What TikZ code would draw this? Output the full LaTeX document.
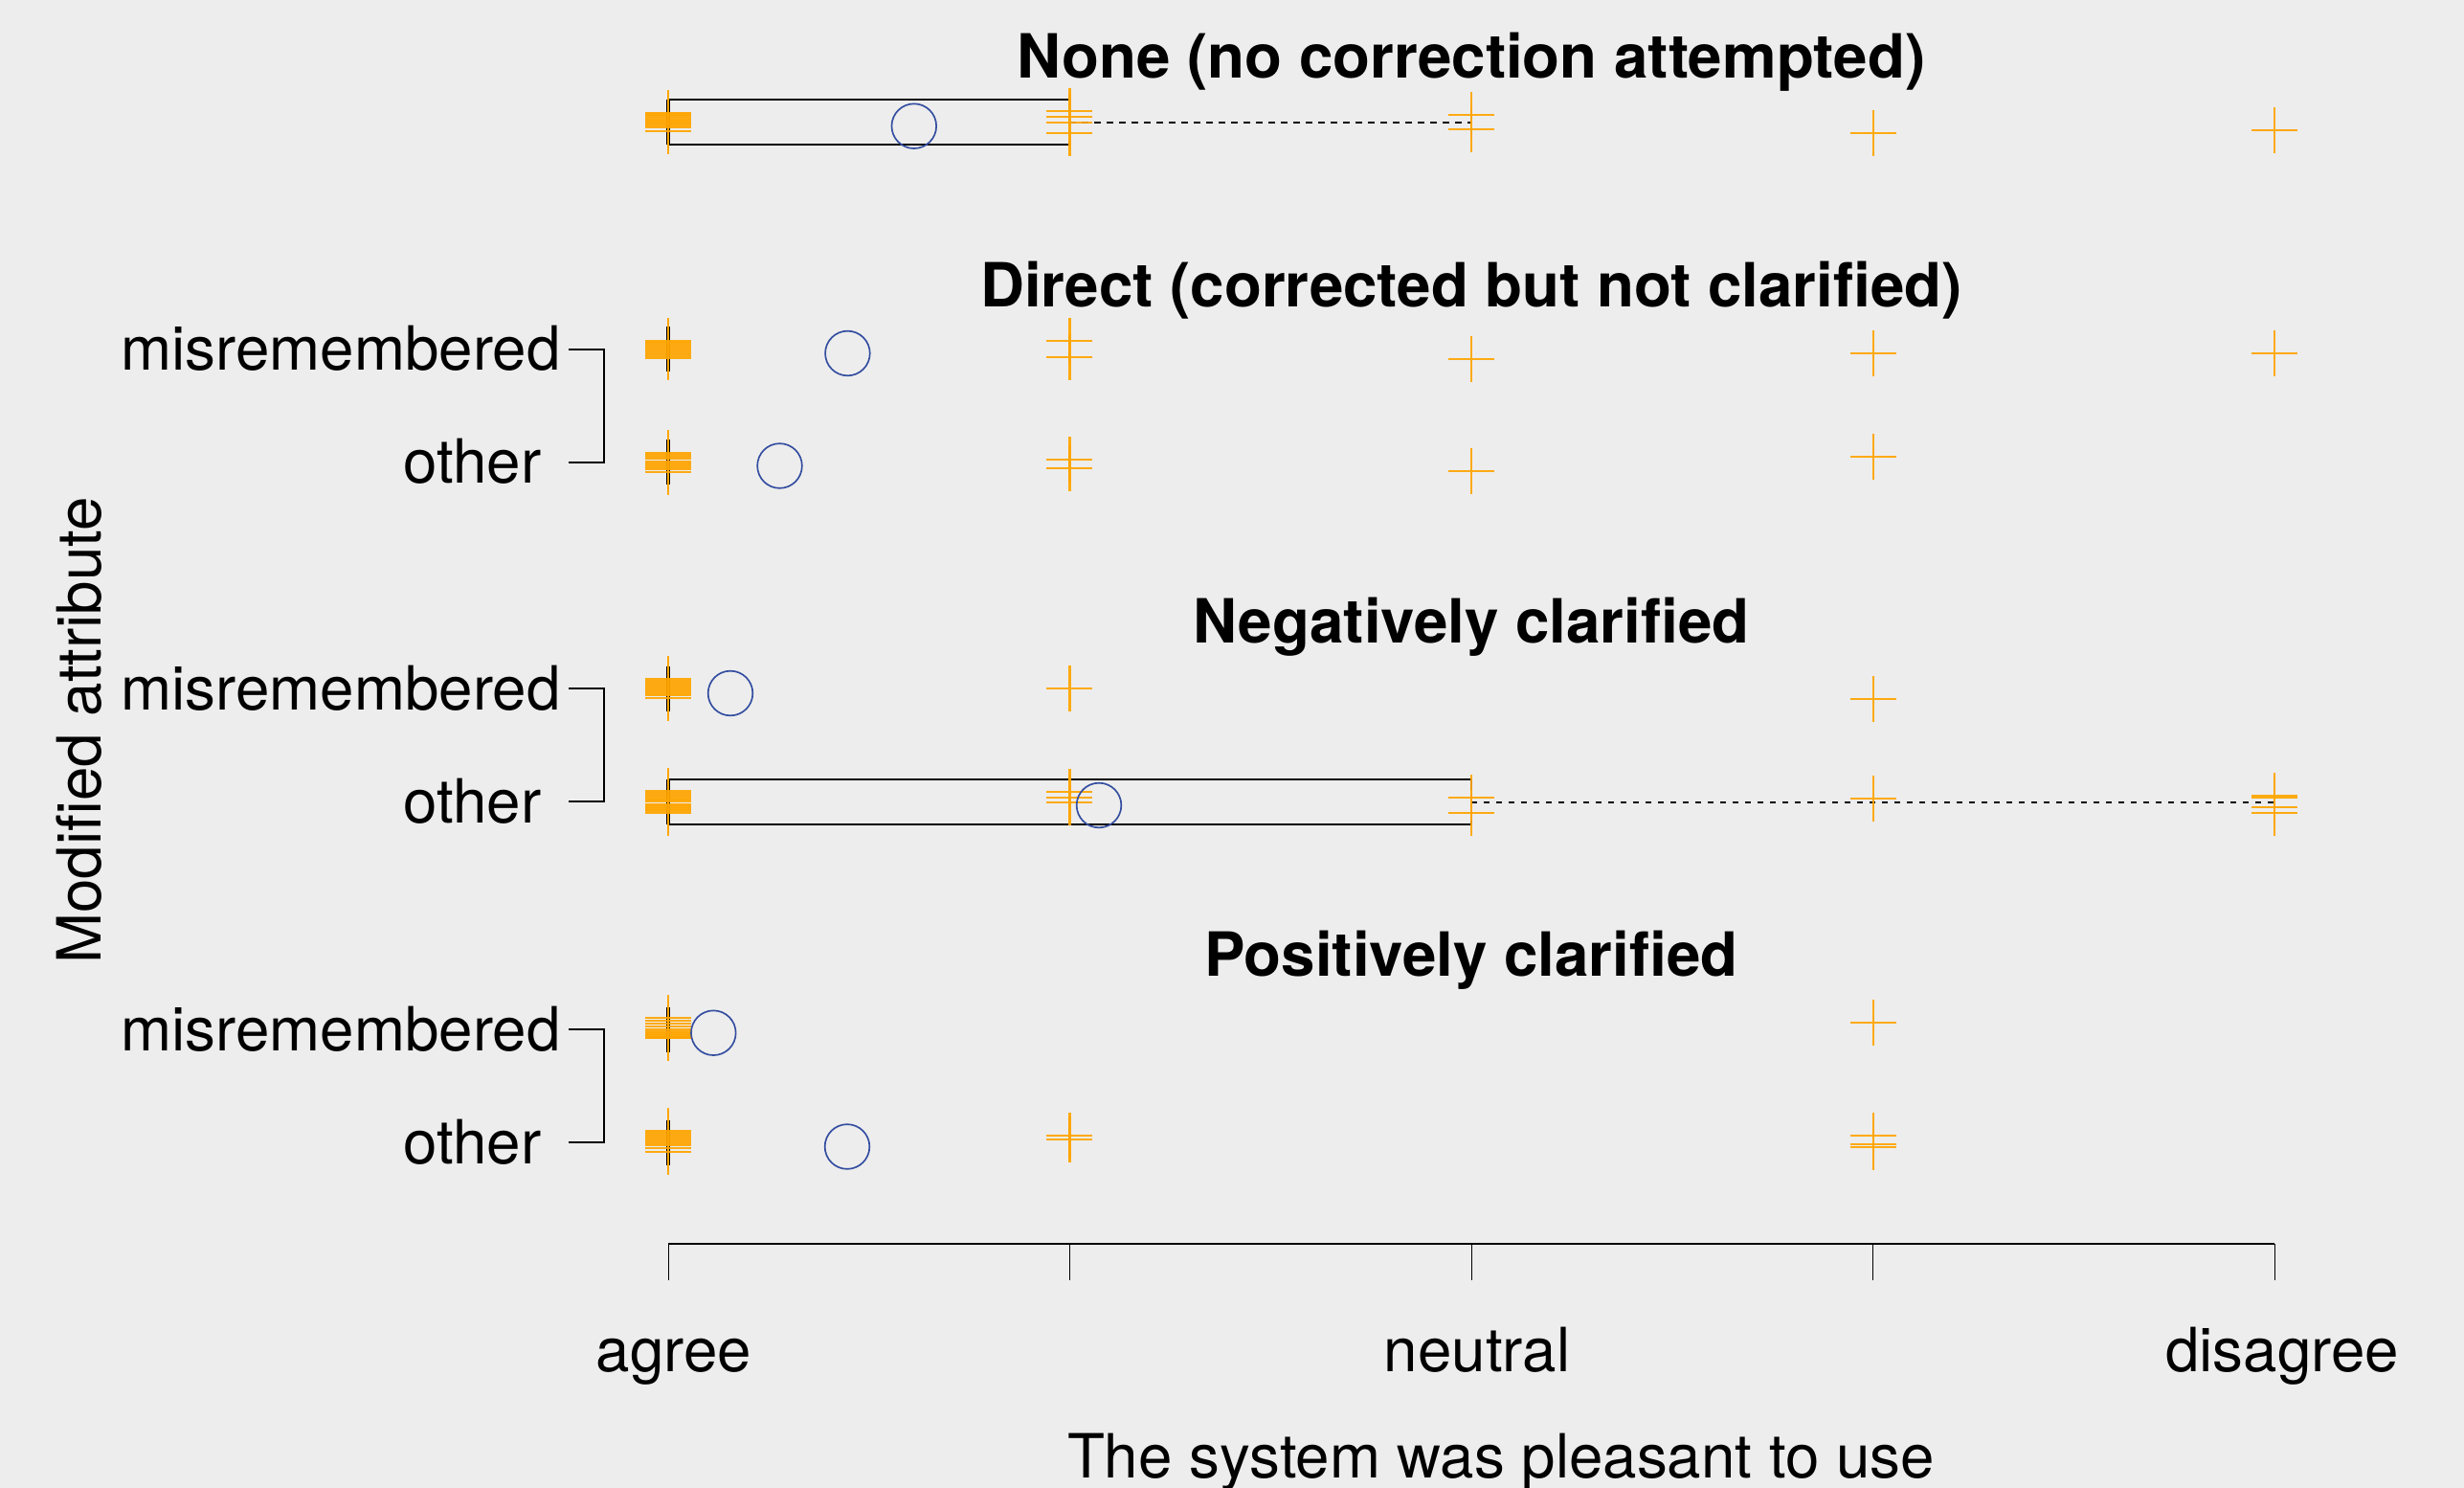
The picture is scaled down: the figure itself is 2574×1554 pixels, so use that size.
\documentclass[tikz,border=0pt]{standalone}
\usepackage{fontspec}
\setmainfont{TeX Gyre Heros}
\definecolor{bg}{RGB}{237,237,237}
\definecolor{org}{RGB}{255,165,0}
\definecolor{blu}{RGB}{52,78,160}
\newcommand\pl[2]{\draw[pm] (#1-24,#2) -- (#1+24,#2) (#1,#2-24) -- (#1,#2+24);}
\def\xa{698}\def\xb{1117.4}\def\xc{1537}\def\xd{1956.6}\def\xe{2376}
\begin{document}
\begin{tikzpicture}[x=0.3pt,y=-0.3pt,
  font=\fontsize{19.1}{23}\selectfont,
  pm/.style={draw=org,line width=0.65pt,opacity=0.92},
  bx/.style={draw=black,line width=0.55pt},
  med/.style={draw=black,line width=1.45pt},
  whk/.style={draw=black,line width=0.6pt,dash pattern=on 1.9pt off 2pt},
  mn/.style={circle,draw=blu,line width=0.5pt,minimum size=14pt,inner sep=0pt},
  lbl/.style={inner sep=0pt,anchor=base east},
  ttl/.style={inner sep=0pt,anchor=base,font=\fontsize{19.1}{23}\selectfont\bfseries},
  axl/.style={inner sep=0pt,anchor=base},
  brk/.style={draw=black,line width=0.5pt}]
\fill[bg] (0,0) rectangle (2574,1554);
\useasboundingbox (0,0) rectangle (2574,1554);

% titles
\node[ttl] (t1) at (1537,82) {None (no correction attempted)};
\node[ttl] (t2) at (1537,321) {Direct (corrected but not clarified)};
\node[ttl] (t3) at (1537,672) {Negatively clarified};
\node[ttl] (t4) at (1537,1019) {Positively clarified};

% row labels
\node[lbl] (l2m) at (586,387) {misremembered};
\node[lbl] (l2o) at (566,505) {other};
\node[lbl] (l3m) at (586,741) {misremembered};
\node[lbl] (l3o) at (566,859) {other};
\node[lbl] (l4m) at (586,1097) {misremembered};
\node[lbl] (l4o) at (566,1215) {other};

% brackets
\coordinate (b2a) at (594,365); \coordinate (b2b) at (631,365);
\coordinate (b2c) at (631,483); \coordinate (b2d) at (594,483);
\coordinate (b3a) at (594,719); \coordinate (b3b) at (631,719);
\coordinate (b3c) at (631,837); \coordinate (b3d) at (594,837);
\coordinate (b4a) at (594,1075); \coordinate (b4b) at (631,1075);
\coordinate (b4c) at (631,1193); \coordinate (b4d) at (594,1193);
\draw[brk] (b2a) -- (b2b) -- (b2c) -- (b2d);
\draw[brk] (b3a) -- (b3b) -- (b3c) -- (b3d);
\draw[brk] (b4a) -- (b4b) -- (b4c) -- (b4d);

% boxplots
\draw[bx] (\xa,103.7) rectangle (\xb,151);
\draw[med] (\xa,103.7) -- (\xa,151);
\draw[whk] (\xb,127.7) -- (\xc,127.7);
\draw[bx] (\xa,814) rectangle (\xc,861);
\draw[med] (\xa,814) -- (\xa,861);
\draw[whk] (\xc,837.5) -- (\xe,837.5);
\foreach \r in {365,483,719,1075,1193} \draw[med] (\xa,\r-23.5) -- (\xa,\r+23.5);

% jittered points
% None
\foreach \y in {118,119.5,121,123,125,126.5,128.5,130.5,133,136.7} {\pl{\xa}{\y}}
\foreach \y in {115.7,122,128.3,139.3} {\pl{\xb}{\y}}
\foreach \y in {120.3,135} {\pl{\xc}{\y}}
\pl{\xd}{139.3}
\pl{\xe}{136.3}
% Direct misremembered
\foreach \y in {356.5,358,360,362,364,366,368.5,371,373.5} {\pl{\xa}{\y}}
\foreach \y in {355.7,372.7} {\pl{\xb}{\y}}
\pl{\xc}{375}
\pl{\xd}{369.3}
\pl{\xe}{368.7}
% Direct other
\foreach \y in {473,475,477,479,482,484,486,488,490,493.3} {\pl{\xa}{\y}}
\foreach \y in {480.3,489} {\pl{\xb}{\y}}
\pl{\xc}{492}
\pl{\xd}{476.7}
% Negatively misremembered
\foreach \y in {709,711,713,715,717,719,721,723,725.5,729.3} {\pl{\xa}{\y}}
\pl{\xb}{719}
\pl{\xd}{730.3}
% Negatively other
\foreach \y in {826,828,830,832,834.5,836.5,840.5,842.5,844.5,846.5,849} {\pl{\xa}{\y}}
\foreach \y in {826.7,833,838.3} {\pl{\xb}{\y}}
\foreach \y in {833,849} {\pl{\xc}{\y}}
\pl{\xd}{833.7}
\foreach \y in {831,833,842.7,849.3} {\pl{\xe}{\y}}
% Positively misremembered
\foreach \y in {1063,1066,1069,1072,1075,1077.5,1079.5,1081.5,1083.5,1084.3} {\pl{\xa}{\y}}
\pl{\xd}{1067.7}
% Positively other
\foreach \y in {1181,1183,1185,1187,1189,1191,1193,1195.5,1199,1202.7} {\pl{\xa}{\y}}
\foreach \y in {1186,1189.7} {\pl{\xb}{\y}}
\foreach \y in {1186.3,1194.7,1197.7} {\pl{\xd}{\y}}

% means
\node[mn] (m1) at (954.8,131.7) {};
\node[mn] (m2) at (885.4,369) {};
\node[mn] (m3) at (814.5,486.5) {};
\node[mn] (m4) at (763,724) {};
\node[mn] (m5) at (1148,841) {};
\node[mn] (m6) at (745.3,1078.7) {};
\node[mn] (m7) at (885,1197.5) {};

% axis
\coordinate (a0) at (\xa,1299.3); \coordinate (a4) at (\xe,1299.3);
\draw[black,line width=0.5pt] (a0) -- (a4);
\foreach \t in {\xa,\xb,\xc,\xd,\xe} \draw[black,line width=0.3pt] (\t,1299.3) -- (\t,1336.7);
\node[axl] (xa) at (704,1432) {agree};
\node[axl] (xc) at (1543,1432) {neutral};
\node[axl] (xe) at (2384,1432) {disagree};
\node[axl] (xt) at (1568,1543) {The system was pleasant to use};
\node[axl,rotate=90] (yt) at (105,763) {Modified attribute};
\end{tikzpicture}
\end{document}
